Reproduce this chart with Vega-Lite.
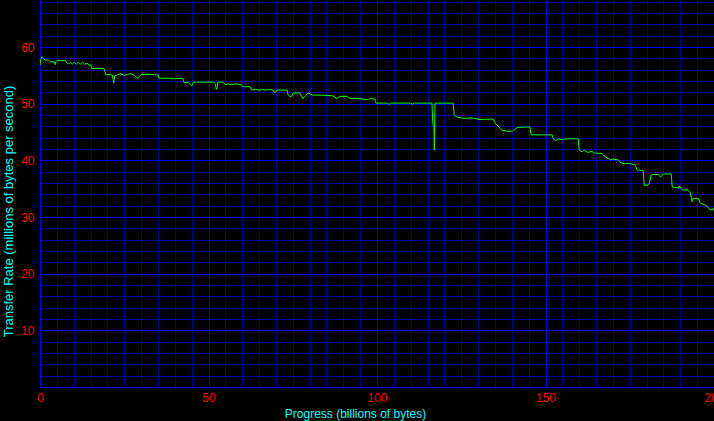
{
  "$schema": "https://vega.github.io/schema/vega-lite/v6.json",
  "width": 674,
  "height": 387,
  "autosize": {"type": "none"},
  "padding": {"left": 40, "top": 0, "right": 0, "bottom": 34},
  "background": "#000000",
  "config": {
    "view": {"stroke": null},
    "font": "Liberation Sans"
  },
  "data": {
    "values": [
      {"progress": 0, "rate": 56.8}, {"progress": 0.2, "rate": 57.8}, {"progress": 0.6, "rate": 58.3}, {"progress": 1.0, "rate": 58.0},
      {"progress": 1.5, "rate": 57.7}, {"progress": 2.5, "rate": 57.7}, {"progress": 3.0, "rate": 57.4}, {"progress": 4.2, "rate": 57.4},
      {"progress": 4.5, "rate": 56.9}, {"progress": 4.7, "rate": 57.4}, {"progress": 5.0, "rate": 57.6}, {"progress": 6.5, "rate": 57.6},
      {"progress": 7.6, "rate": 57.6}, {"progress": 7.9, "rate": 57.2}, {"progress": 8.5, "rate": 57.0}, {"progress": 9.0, "rate": 57.3},
      {"progress": 9.6, "rate": 57.0}, {"progress": 10.2, "rate": 57.3}, {"progress": 10.8, "rate": 57.0}, {"progress": 11.4, "rate": 57.3},
      {"progress": 12.0, "rate": 57.0}, {"progress": 12.6, "rate": 57.3}, {"progress": 13.2, "rate": 57.0}, {"progress": 14.2, "rate": 57.1},
      {"progress": 14.5, "rate": 56.8}, {"progress": 15.1, "rate": 56.8}, {"progress": 15.3, "rate": 56.2}, {"progress": 19.0, "rate": 56.2},
      {"progress": 19.2, "rate": 55.7}, {"progress": 19.6, "rate": 55.1}, {"progress": 21.0, "rate": 55.2}, {"progress": 21.5, "rate": 55.0},
      {"progress": 21.9, "rate": 53.6}, {"progress": 22.1, "rate": 54.9}, {"progress": 23.0, "rate": 55.1}, {"progress": 24.0, "rate": 55.3},
      {"progress": 25.0, "rate": 55.0}, {"progress": 26.0, "rate": 55.2}, {"progress": 27.0, "rate": 55.3}, {"progress": 28.0, "rate": 55.0},
      {"progress": 28.6, "rate": 54.7}, {"progress": 29.0, "rate": 54.5}, {"progress": 29.9, "rate": 55.1}, {"progress": 32.0, "rate": 55.2},
      {"progress": 34.0, "rate": 55.1}, {"progress": 35.0, "rate": 55.1}, {"progress": 35.3, "rate": 54.5}, {"progress": 38.0, "rate": 54.5},
      {"progress": 40.0, "rate": 54.4}, {"progress": 42.4, "rate": 54.5}, {"progress": 42.7, "rate": 53.7}, {"progress": 44.0, "rate": 53.8},
      {"progress": 45.0, "rate": 53.1}, {"progress": 45.5, "rate": 53.8}, {"progress": 47.5, "rate": 53.8}, {"progress": 51.5, "rate": 53.8},
      {"progress": 51.9, "rate": 53.6}, {"progress": 52.4, "rate": 52.5}, {"progress": 52.8, "rate": 53.8}, {"progress": 54.3, "rate": 53.8},
      {"progress": 54.9, "rate": 53.4}, {"progress": 56.0, "rate": 53.5}, {"progress": 57.0, "rate": 53.3}, {"progress": 58.0, "rate": 53.5},
      {"progress": 59.3, "rate": 53.4}, {"progress": 59.9, "rate": 53.3}, {"progress": 60.2, "rate": 53.0}, {"progress": 62.3, "rate": 53.0},
      {"progress": 62.8, "rate": 52.4}, {"progress": 64.0, "rate": 52.5}, {"progress": 65.0, "rate": 52.4}, {"progress": 66.0, "rate": 52.5},
      {"progress": 67.0, "rate": 52.4}, {"progress": 68.0, "rate": 52.5}, {"progress": 69.1, "rate": 52.4}, {"progress": 69.7, "rate": 51.9},
      {"progress": 70.3, "rate": 52.4}, {"progress": 73.3, "rate": 52.4}, {"progress": 73.6, "rate": 51.6}, {"progress": 74.2, "rate": 51.2},
      {"progress": 74.8, "rate": 51.4}, {"progress": 75.1, "rate": 51.9}, {"progress": 77.1, "rate": 51.9}, {"progress": 78.0, "rate": 50.9},
      {"progress": 79.5, "rate": 51.9}, {"progress": 81.0, "rate": 51.5}, {"progress": 84.0, "rate": 51.5}, {"progress": 86.9, "rate": 51.4},
      {"progress": 88.1, "rate": 50.9}, {"progress": 89.0, "rate": 51.3}, {"progress": 91.1, "rate": 51.3}, {"progress": 92.0, "rate": 50.9},
      {"progress": 95.0, "rate": 50.9}, {"progress": 97.0, "rate": 50.7}, {"progress": 98.0, "rate": 50.9}, {"progress": 99.4, "rate": 50.8},
      {"progress": 99.7, "rate": 50.1}, {"progress": 103.0, "rate": 50.1}, {"progress": 103.5, "rate": 49.9}, {"progress": 104.0, "rate": 50.1},
      {"progress": 110.0, "rate": 50.1}, {"progress": 110.5, "rate": 49.9}, {"progress": 111.0, "rate": 50.1}, {"progress": 116.3, "rate": 50.1},
      {"progress": 116.6, "rate": 46.2}, {"progress": 116.9, "rate": 46.2}, {"progress": 117.0, "rate": 41.8}, {"progress": 117.2, "rate": 50.1},
      {"progress": 120.0, "rate": 50.1}, {"progress": 122.6, "rate": 50.1}, {"progress": 122.9, "rate": 48.0}, {"progress": 123.8, "rate": 47.6},
      {"progress": 126.0, "rate": 47.4}, {"progress": 128.0, "rate": 47.5}, {"progress": 129.7, "rate": 47.3}, {"progress": 130.6, "rate": 47.2},
      {"progress": 134.5, "rate": 47.3}, {"progress": 135.0, "rate": 46.6}, {"progress": 136.5, "rate": 45.7}, {"progress": 137.1, "rate": 45.3},
      {"progress": 139.0, "rate": 45.1}, {"progress": 140.4, "rate": 45.2}, {"progress": 141.6, "rate": 45.8}, {"progress": 145.4, "rate": 45.9},
      {"progress": 145.7, "rate": 44.6}, {"progress": 146.0, "rate": 44.5}, {"progress": 152.0, "rate": 44.5}, {"progress": 152.3, "rate": 43.8},
      {"progress": 153.0, "rate": 43.5}, {"progress": 153.8, "rate": 43.8}, {"progress": 155.2, "rate": 43.6}, {"progress": 155.8, "rate": 43.8},
      {"progress": 159.7, "rate": 43.8}, {"progress": 160.0, "rate": 41.8}, {"progress": 160.9, "rate": 41.5}, {"progress": 161.5, "rate": 41.8},
      {"progress": 162.5, "rate": 41.4}, {"progress": 163.9, "rate": 41.6}, {"progress": 164.2, "rate": 41.3}, {"progress": 166.8, "rate": 41.2},
      {"progress": 167.1, "rate": 40.9}, {"progress": 169.2, "rate": 40.1}, {"progress": 169.8, "rate": 40.2}, {"progress": 171.6, "rate": 40.1},
      {"progress": 172.2, "rate": 39.6}, {"progress": 173.5, "rate": 39.4}, {"progress": 174.5, "rate": 39.5}, {"progress": 176.6, "rate": 39.2},
      {"progress": 177.2, "rate": 38.3}, {"progress": 179.0, "rate": 38.2}, {"progress": 179.3, "rate": 35.6}, {"progress": 180.2, "rate": 35.6},
      {"progress": 180.8, "rate": 35.9}, {"progress": 181.4, "rate": 37.5}, {"progress": 183.5, "rate": 37.5}, {"progress": 184.1, "rate": 37.0},
      {"progress": 185.0, "rate": 37.6}, {"progress": 187.3, "rate": 37.6}, {"progress": 187.6, "rate": 35.3}, {"progress": 189.4, "rate": 35.1},
      {"progress": 189.7, "rate": 35.5}, {"progress": 190.6, "rate": 34.8}, {"progress": 192.1, "rate": 34.8}, {"progress": 193.0, "rate": 34.3},
      {"progress": 193.5, "rate": 32.7}, {"progress": 193.8, "rate": 33.3}, {"progress": 195.3, "rate": 33.3}, {"progress": 195.9, "rate": 32.5},
      {"progress": 197.0, "rate": 32.2}, {"progress": 198.0, "rate": 31.9}, {"progress": 198.9, "rate": 31.2}, {"progress": 199.8, "rate": 31.5},
      {"progress": 200.0, "rate": 31.1}
    ]
  },
  "mark": {"type": "line", "color": "#00ff00", "strokeWidth": 1, "clip": true},
  "encoding": {
    "x": {
      "field": "progress",
      "type": "quantitative",
      "scale": {"domain": [0, 200], "nice": false, "zero": false},
      "axis": {
        "title": "Progress (billions of bytes)",
        "values": [0,5,10,15,20,25,30,35,40,45,50,55,60,65,70,75,80,85,90,95,100,105,110,115,120,125,130,135,140,145,150,155,160,165,170,175,180,185,190,195,200],
        "labelExpr": "datum.value % 50 === 0 ? datum.label : ''",
        "labelOverlap": false,
        "labelFlush": false,
        "labelColor": "#ff0000",
        "labelFontSize": 12,
        "labelPadding": 5,
        "ticks": false,
        "tickSize": 0,
        "domain": true,
        "domainColor": "#0000ff",
        "domainWidth": 1,
        "grid": true,
        "gridColor": {"condition": {"test": "datum.value % 50 === 0", "value": "#0000ff"}, "value": "#0000a0"},
        "gridOpacity": 1,
        "gridWidth": 1,
        "titleColor": "#00ffff",
        "titleFontSize": 12,
        "titleFontWeight": "normal",
        "titleX": 315,
        "titleY": 26,
        "titleAlign": "center",
        "titleBaseline": "middle"
      }
    },
    "y": {
      "field": "rate",
      "type": "quantitative",
      "scale": {"domain": [0, 68.3], "nice": false, "zero": false},
      "axis": {
        "title": "Transfer Rate (millions of bytes per second)",
        "values": [0,2,4,6,8,10,12,14,16,18,20,22,24,26,28,30,32,34,36,38,40,42,44,46,48,50,52,54,56,58,60,62,64,66,68],
        "labelExpr": "datum.value % 10 === 0 && datum.value > 0 ? datum.label : ''",
        "labelOverlap": false,
        "labelColor": "#ff0000",
        "labelFontSize": 12,
        "labelPadding": 6,
        "ticks": false,
        "tickSize": 0,
        "domain": true,
        "domainColor": "#0000ff",
        "domainWidth": 1,
        "grid": true,
        "gridColor": {"condition": {"test": "datum.value % 10 === 0", "value": "#0000ff"}, "value": "#0000a0"},
        "gridOpacity": 1,
        "gridWidth": 1,
        "titleColor": "#00ffff",
        "titleFontSize": 13,
        "titleFontWeight": "normal",
        "titleAngle": 270,
        "titleX": -32,
        "titleY": 211,
        "titleAlign": "center",
        "titleBaseline": "middle"
      }
    }
  }
}
